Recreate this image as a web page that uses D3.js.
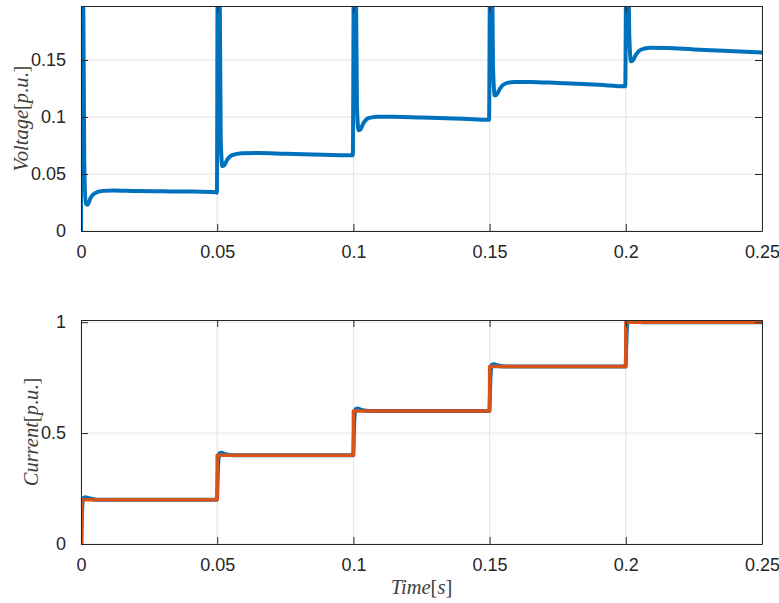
<!DOCTYPE html>
<html>
<head>
<meta charset="utf-8">
<script src="https://cdn.jsdelivr.net/npm/d3@7"></script>
<style>
  body { margin: 0; background: #fff; }
  svg { display: block; }
  .tick-label { font-family: "Liberation Sans", Arial, sans-serif; font-size: 18px; fill: #262626; }
  .ax-title { font-family: "Liberation Serif", "DejaVu Serif", serif; font-style: italic; font-size: 20.5px; fill: #404040; }
  .ax-title .up { font-style: normal; }
</style>
</head>
<body>
<div id="chart"></div>
<script>
// time ticks shared by both panels
const xTicks = [0, 0.05, 0.1, 0.15, 0.2, 0.25];
const voltTicks = [0, 0.05, 0.1, 0.15];
const currTicks = [0, 0.5, 1];

// voltage trace [t, v] (spikes go past the top and get clipped)
const voltage = [
  [0, 0], [0.0002, 0.25], [0.0007, 0.25], [0.0012, 0.06], [0.0018, 0.024], [0.0024, 0.023],
  [0.0035, 0.029], [0.005, 0.033], [0.008, 0.0352], [0.012, 0.0355], [0.02, 0.035], [0.03, 0.0348],
  [0.04, 0.0346], [0.0495, 0.034], [0.0499, 0.0335],
  [0.0502, 0.25], [0.0508, 0.25], [0.0513, 0.08], [0.0519, 0.057], [0.0525, 0.0575], [0.0538, 0.063],
  [0.0555, 0.0665], [0.059, 0.0683], [0.065, 0.0685], [0.075, 0.0678], [0.085, 0.0672], [0.0998, 0.0665],
  [0.1002, 0.25], [0.1008, 0.25], [0.1013, 0.11], [0.1019, 0.0885], [0.1025, 0.089], [0.1038, 0.095],
  [0.1055, 0.099], [0.109, 0.1003], [0.115, 0.1003], [0.125, 0.0995], [0.14, 0.0985], [0.1498, 0.0975],
  [0.1502, 0.25], [0.1508, 0.25], [0.1513, 0.14], [0.1519, 0.119], [0.1525, 0.1195], [0.1538, 0.125],
  [0.1555, 0.129], [0.159, 0.1308], [0.165, 0.1308], [0.175, 0.1298], [0.19, 0.1283], [0.1998, 0.127],
  [0.2002, 0.25], [0.2008, 0.25], [0.2013, 0.17], [0.2019, 0.149], [0.2025, 0.1495], [0.2038, 0.155],
  [0.2055, 0.159], [0.209, 0.1607], [0.215, 0.1605], [0.225, 0.1593], [0.238, 0.158], [0.25, 0.1565]
];

// measured current (blue) with small overshoots
const currentMeas = [
  [0, 0], [0.0004, 0.15], [0.0008, 0.205], [0.0015, 0.211], [0.003, 0.206], [0.006, 0.2], [0.0499, 0.2],
  [0.0503, 0.35], [0.0508, 0.408], [0.0515, 0.411], [0.053, 0.405], [0.056, 0.4], [0.0999, 0.4],
  [0.1003, 0.55], [0.1008, 0.608], [0.1015, 0.611], [0.103, 0.605], [0.106, 0.6], [0.1499, 0.6],
  [0.1503, 0.75], [0.1508, 0.808], [0.1515, 0.811], [0.153, 0.805], [0.156, 0.8], [0.1999, 0.8],
  [0.2003, 0.95], [0.2008, 1.008], [0.2015, 1.01], [0.203, 1.005], [0.206, 1.0], [0.25, 1.0]
];

// reference current steps (orange)
const refTimes = [0, 0.0003, 0.05, 0.1, 0.15, 0.2, 0.25];
const refValues = [0, 0.2, 0.4, 0.6, 0.8, 1.0, 1.0];

const W = 779, H = 603;
const blue = '#0072BD', orange = '#D95319';

const svg = d3.select('#chart').append('svg')
  .attr('width', W)
  .attr('height', H);

const x = d3.scaleLinear().domain([0, 0.25]).range([81, 762]);

// italic letters, upright brackets and dots like LaTeX math
function titleText(sel, parts) {
  parts.forEach(p => {
    sel.append('tspan').attr('class', p[1] ? 'up' : null).text(p[0]);
  });
}

function drawPanel(top, bottom, yDomain, yTicks, yTickFmt, title, titleX, series) {
  const y = d3.scaleLinear().domain(yDomain).range([bottom, top]);
  const id = 'clip' + top;
  svg.append('clipPath').attr('id', id)
    .append('rect')
    .attr('x', x.range()[0]).attr('y', top)
    .attr('width', x.range()[1] - x.range()[0]).attr('height', bottom - top);

  // grid
  const grid = svg.append('g');
  grid.selectAll('.gx').data(xTicks).enter().append('line')
    .attr('x1', d => x(d)).attr('x2', d => x(d))
    .attr('y1', top).attr('y2', bottom)
    .style('stroke', '#e3e3e3').style('stroke-width', 1);
  grid.selectAll('.gy').data(yTicks).enter().append('line')
    .attr('x1', x.range()[0]).attr('x2', x.range()[1])
    .attr('y1', d => y(d)).attr('y2', d => y(d))
    .style('stroke', '#e3e3e3').style('stroke-width', 1);

  // data
  const plot = svg.append('g').attr('clip-path', 'url(#' + id + ')');
  series.forEach(s => {
    plot.append('path')
      .datum(s.data)
      .attr('d', d3.line().x(d => x(d[0])).y(d => y(d[1])).curve(s.curve))
      .style('fill', 'none')
      .style('stroke', s.color)
      .style('stroke-width', s.width)
      .style('stroke-linejoin', 'round');
  });

  // axes, MATLAB style with inward ticks on all four sides
  const axisColor = '#262626';
  const bottomAx = svg.append('g').attr('transform', 'translate(0,' + bottom + ')')
    .call(d3.axisBottom(x).tickValues(xTicks).tickSizeInner(-7).tickSizeOuter(0).tickPadding(14)
      .tickFormat(d3.format('')));
  const topAx = svg.append('g').attr('transform', 'translate(0,' + top + ')')
    .call(d3.axisTop(x).tickValues(xTicks).tickSizeInner(-7).tickSizeOuter(0).tickFormat(''));
  const leftAx = svg.append('g').attr('transform', 'translate(' + x.range()[0] + ',0)')
    .call(d3.axisLeft(y).tickValues(yTicks).tickSizeInner(-7).tickSizeOuter(0).tickPadding(15)
      .tickFormat(yTickFmt));
  const rightAx = svg.append('g').attr('transform', 'translate(' + x.range()[1] + ',0)')
    .call(d3.axisRight(y).tickValues(yTicks).tickSizeInner(-7).tickSizeOuter(0).tickFormat(''));

  [bottomAx, topAx, leftAx, rightAx].forEach(a => {
    a.selectAll('.domain').style('stroke', axisColor).style('stroke-width', 1);
    a.selectAll('.tick line').style('stroke', axisColor).style('stroke-width', 1);
    a.selectAll('.tick text').attr('class', 'tick-label').style('font-family', null).style('font-size', null);
    a.attr('font-family', null).attr('font-size', null);
  });

  const t = svg.append('text')
    .attr('class', 'ax-title')
    .attr('transform', 'translate(' + titleX + ',' + ((top + bottom) / 2) + ') rotate(-90)')
    .style('text-anchor', 'middle');
  titleText(t, title);
}

drawPanel(6, 231, [0, 0.1974], voltTicks, d3.format(''),
  [['Voltage'], ['[', 1], ['p'], ['.', 1], ['u'], ['.', 1], [']', 1]], 28, [
  { data: voltage, color: blue, width: 4, curve: d3.curveMonotoneX }
]);

drawPanel(320, 544, [0, 1.01], currTicks, d3.format(''),
  [['Current'], ['[', 1], ['p'], ['.', 1], ['u'], ['.', 1], [']', 1]], 38, [
  { data: currentMeas, color: blue, width: 4, curve: d3.curveMonotoneX },
  { data: refTimes.map((t, i) => [t, refValues[i]]), color: orange, width: 3.5, curve: d3.curveStepAfter }
]);

const tt = svg.append('text')
  .attr('class', 'ax-title')
  .attr('x', x(0.125))
  .attr('y', 594)
  .style('text-anchor', 'middle');
titleText(tt, [['Time'], ['[', 1], ['s'], [']', 1]]);
</script>
</body>
</html>
